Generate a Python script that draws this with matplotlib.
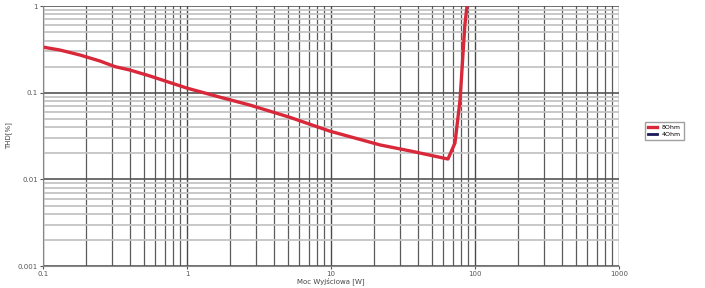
import matplotlib
matplotlib.use("Agg")
import matplotlib.pyplot as plt
from matplotlib.ticker import FixedLocator, FixedFormatter, LogLocator, NullFormatter

power_8ohm = [0.1, 0.131, 0.181, 0.249, 0.316, 0.40, 0.553, 1.0, 1.69, 2.74, 5.19, 9.84, 21.9, 37.0, 64.9, 72.6, 78.7, 85.0, 88.0]
thd_8ohm = [0.336, 0.311, 0.272, 0.232, 0.200, 0.183, 0.156, 0.113, 0.089, 0.072, 0.052, 0.036, 0.025, 0.021, 0.0172, 0.0263, 0.082, 0.60, 1.0]
power_4ohm = []
thd_4ohm = []

x_ticks = [0.1, 1, 10, 100, 1000]
x_labels = ["0.1", "1", "10", "100", "1000"]
y_ticks = [0.001, 0.01, 0.1, 1]
y_labels = ["0.001", "0.01", "0.1", "1"]

fig = plt.figure(figsize=(7.05, 2.88), dpi=100)
ax = fig.add_axes([0.061, 0.076, 0.817, 0.903])
ax.set_xscale("log")
ax.set_yscale("log")
ax.set_xlim(0.1, 1000)
ax.set_ylim(0.001, 1)

ax.xaxis.set_major_locator(FixedLocator(x_ticks))
ax.xaxis.set_major_formatter(FixedFormatter(x_labels))
ax.yaxis.set_major_locator(FixedLocator(y_ticks))
ax.yaxis.set_major_formatter(FixedFormatter(y_labels))
ax.xaxis.set_minor_locator(LogLocator(base=10, subs=range(2, 10)))
ax.yaxis.set_minor_locator(LogLocator(base=10, subs=range(2, 10)))
ax.xaxis.set_minor_formatter(NullFormatter())
ax.yaxis.set_minor_formatter(NullFormatter())

ax.grid(which="major", axis="x", color="#4a4a4a", linewidth=1.0)
ax.grid(which="minor", axis="x", color="#5a5a5a", linewidth=0.9)
ax.grid(which="major", axis="y", color="#555555", linewidth=1.2)
ax.grid(which="minor", axis="y", color="#c4c4c4", linewidth=1.3)
ax.set_axisbelow(True)

ax.plot(power_8ohm, thd_8ohm, color="#d8283a", linewidth=2.4, label="8Ohm")
ax.plot(power_4ohm, thd_4ohm, color="#1a1a5a", linewidth=2.0, label="4Ohm")

ax.tick_params(axis="both", which="both", length=2, labelsize=5, colors="#555555", pad=1.5)
ax.tick_params(which="minor", length=0)
for s in ax.spines.values():
    s.set_visible(False)
ax.spines["left"].set_visible(True)
ax.spines["bottom"].set_visible(True)
ax.spines["left"].set_color("#888888")
ax.spines["bottom"].set_color("#888888")

fig.text(331 / 705, 1 - 281 / 288, "Moc Wyjściowa [W]", fontsize=5, color="#444444",
         ha="center", va="center")
fig.text(9 / 705, 1 - 136 / 288, "THD[%]", fontsize=5, color="#444444",
         ha="center", va="center", rotation=90)

leg = ax.legend(loc="center left", bbox_to_anchor=(1.04, 0.52), fontsize=4.5,
                frameon=True, fancybox=False, edgecolor="#888888",
                handlelength=1.5, borderpad=0.4, labelspacing=0.3)

fig.savefig("out.png", dpi=100)
